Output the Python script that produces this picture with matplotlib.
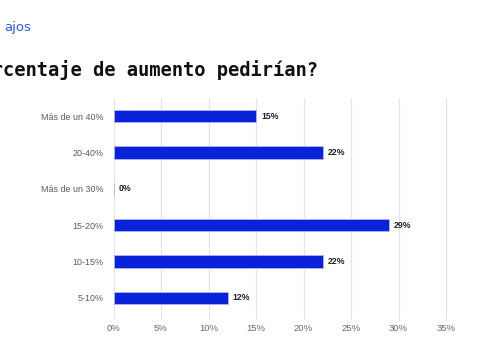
import matplotlib
matplotlib.use("Agg")
import matplotlib.pyplot as plt

categories = ["Más de un 40%", "20-40%", "Más de un 30%", "15-20%", "10-15%", "5-10%"]
values = [15, 22, 0, 29, 22, 12]
xticks = [0, 5, 10, 15, 20, 25, 30, 35]
title = "¿Qué porcentaje de aumento pedirían?"

fig = plt.figure(figsize=(5, 3.4), dpi=100)
ax = fig.add_axes([0.227, 0.0706, 0.7125, 0.6414])

ypos = list(range(len(categories)))
ax.barh(ypos, values, height=0.34, color="#0a22d9", edgecolor="#aab6ff",
        linewidth=0.6, zorder=3)
for y, v in zip(ypos, values):
    ax.text(v + 0.55, y, f"{v}%", va="center", ha="left", fontsize=6.3,
            fontweight="bold", color="#222222", family="Liberation Sans", zorder=4)

ax.set_xlim(0, 37.5)
ax.set_ylim(len(categories) - 0.5, -0.5)
ax.set_yticks(ypos)
ax.set_yticklabels(categories, fontsize=6.4, color="#5a5a5a", family="Liberation Sans")
ax.set_xticks(xticks)
ax.set_xticklabels([f"{t}%" for t in xticks], fontsize=6.8, color="#6a6a6a",
                   family="Liberation Sans")
ax.tick_params(axis="y", length=0, pad=7)
ax.tick_params(axis="x", length=3, color="#e4e4e4", pad=3)
ax.grid(axis="x", color="#e4e4e4", linewidth=0.9, zorder=0)
for s in ax.spines.values():
    s.set_visible(False)

fig.text(318 / 500, 1 - 70 / 340, title, ha="right", va="center",
         fontsize=13.5, fontweight="bold", family="DejaVu Sans Mono", color="#111111")
fig.text(31 / 500, 1 - 27 / 340, "ajos", ha="right", va="center",
         fontsize=9.5, color="#2b55f5", family="DejaVu Sans")

fig.savefig("out.png", dpi=100, facecolor="white")
